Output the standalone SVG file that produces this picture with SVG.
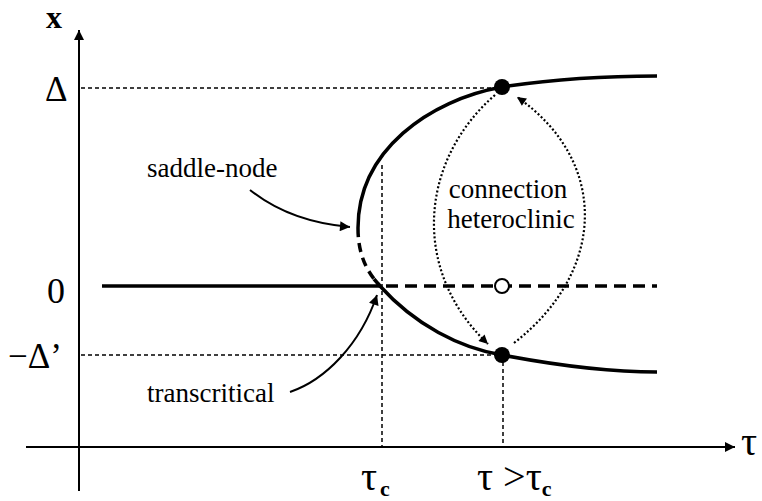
<svg xmlns="http://www.w3.org/2000/svg" width="762" height="501" viewBox="0 0 762 501">
<defs>
<style>
.ax{stroke:#000;stroke-width:2;fill:none}
.cur{stroke:#000;stroke-width:3.5;fill:none}
.dash{stroke:#000;stroke-width:3.5;fill:none;stroke-dasharray:12 7}
.guide{stroke:#000;stroke-width:1.5;fill:none;stroke-dasharray:4 3}
.dot{stroke:#000;stroke-width:2.2;fill:none;stroke-dasharray:2 2.2}
.txt{font-size:27px}
.arr{stroke:#000;stroke-width:2;fill:none}
</style>
<marker id="ah" viewBox="0 0 10 10" refX="10" refY="5" markerWidth="14" markerHeight="10" markerUnits="userSpaceOnUse" orient="auto">
<path d="M0,0 L10,5 L0,10 z" fill="#000"/>
</marker>
<marker id="ahs" viewBox="0 0 10 10" refX="10" refY="5" markerWidth="12" markerHeight="9" markerUnits="userSpaceOnUse" orient="auto">
<path d="M0,0 L10,5 L0,10 z" fill="#000"/>
</marker>
</defs>
<g id="axes">
<line class="ax" x1="79" y1="491" x2="79" y2="30" marker-end="url(#ah)"/>
<line class="ax" x1="26" y1="447" x2="735" y2="447" marker-end="url(#ah)"/>
</g>
<g id="guides">
<line class="guide" x1="81" y1="88" x2="495" y2="88"/>
<line class="guide" x1="81" y1="355" x2="495" y2="355"/>
<line class="guide" x1="382" y1="165" x2="382" y2="446"/>
<line class="guide" x1="503" y1="362" x2="503" y2="446"/>
</g>
<g id="branches">
<line class="cur" x1="102" y1="286" x2="380" y2="286"/>
<line class="dash" x1="386" y1="286" x2="657" y2="286"/>
<path class="cur" d="M657,76 C610,76 560,78 502,87 C430,100 358,150 358,228"/>
<path class="dash" style="stroke-dasharray:9 6" d="M358,228 C358,255 367,272 380,286"/>
<path class="cur" d="M374,279 L380,286 C415,325 460,348 502,355 C560,366 610,372 657,372"/>
</g>
<g id="points">
<circle cx="502" cy="87" r="8" fill="#000"/>
<circle cx="502" cy="355" r="8" fill="#000"/>
<circle cx="502" cy="286" r="7" fill="#fff" stroke="#000" stroke-width="2"/>
</g>
<g id="connectors">
<path class="arr" d="M250,190 Q290,222 350,227" marker-end="url(#ah)"/>
<path class="arr" d="M290,392 C325,380 360,345 377,295" marker-end="url(#ah)"/>
<path class="dot" d="M495,95 C420,160 410,270 488,344" marker-end="url(#ahs)"/>
<path class="dot" d="M514,343 C608,270 608,160 517,97" marker-end="url(#ahs)"/>
</g>
<g id="labels" font-family="'Liberation Serif', 'Times New Roman', 'DejaVu Serif', serif" fill="#000">
<text x="46" y="28" font-size="32" font-weight="bold">x</text>
<text x="45" y="101" font-size="35">Δ</text>
<text x="47" y="303" font-size="36">0</text>
<text x="8" y="368" font-size="35">−Δ’</text>
<text x="741" y="455" font-size="40">τ</text>
<text x="361" y="490" font-size="40">τ<tspan font-size="22" font-weight="bold" dx="3" dy="6">c</tspan></text>
<text x="477" y="490" font-size="40">τ &gt;τ<tspan font-size="22" font-weight="bold" dy="6">c</tspan></text>
<text class="txt" x="147" y="177">saddle-node</text>
<text class="txt" x="147" y="402">transcritical</text>
<text class="txt" x="508" y="198" text-anchor="middle">connection</text>
<text class="txt" x="511" y="228" text-anchor="middle">heteroclinic</text>
</g>
</svg>
